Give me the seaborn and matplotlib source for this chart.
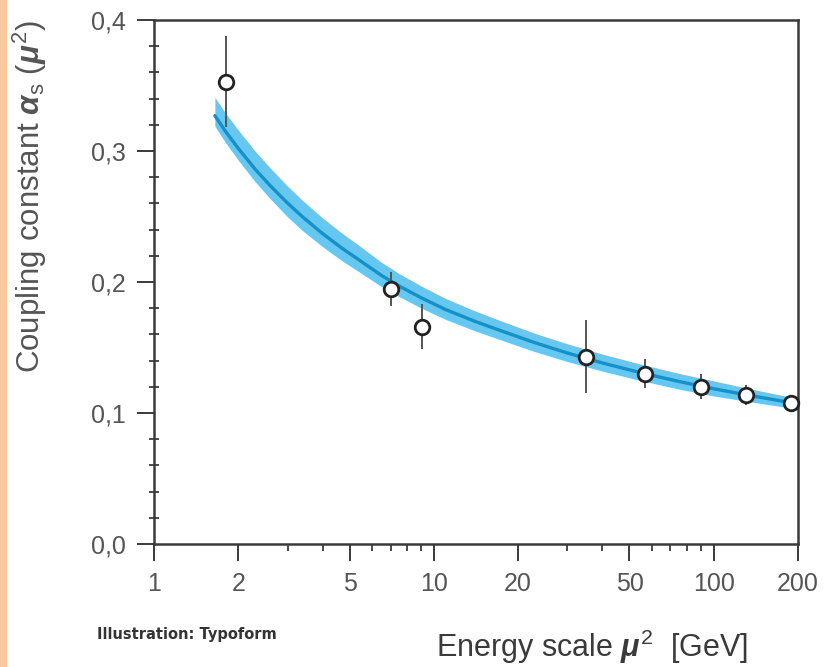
import numpy as np
import pandas as pd
import matplotlib
matplotlib.use("Agg")
import matplotlib.pyplot as plt
import seaborn as sns
from matplotlib.ticker import FixedLocator, NullFormatter
from matplotlib.patches import Rectangle

# ---- data ----
energy = [1.81, 7.0, 9.1, 35.0, 57.0, 90.0, 130.0, 189.0]
alpha_meas = [0.353, 0.195, 0.166, 0.143, 0.130, 0.120, 0.114, 0.108]
alpha_err = [0.035, 0.013, 0.017, 0.028, 0.011, 0.0095, 0.0076, 0.003]

curve_x = [1.65, 1.8, 2.0, 2.3, 2.6, 3.0, 3.4, 4.0, 4.7, 5.5, 6.5, 7.5, 9.0, 11.0,
           14.0, 18.0, 23.0, 30.0, 40.0, 55.0, 75.0, 100.0, 140.0, 200.0]
curve_y = [0.327, 0.315, 0.302, 0.286, 0.2736, 0.2602, 0.2496, 0.237, 0.2257, 0.2157,
           0.205, 0.197, 0.188, 0.179, 0.170, 0.1616, 0.1536, 0.1458, 0.1382, 0.1307,
           0.1241, 0.1185, 0.1127, 0.107]
band_up = [0.014, 0.014, 0.014, 0.0138, 0.0135, 0.013, 0.0125, 0.012, 0.0115, 0.011,
           0.010, 0.0095, 0.009, 0.0085, 0.008, 0.0075, 0.0072, 0.007, 0.0068, 0.0065,
           0.0062, 0.006, 0.005, 0.004]
band_lo = [0.008, 0.0085, 0.009, 0.0095, 0.010, 0.0105, 0.0105, 0.010, 0.0095, 0.009,
           0.0085, 0.008, 0.0078, 0.0075, 0.0072, 0.007, 0.0068, 0.0065, 0.0062, 0.006,
           0.0058, 0.0055, 0.0047, 0.004]

x_ticks = [1, 2, 5, 10, 20, 50, 100, 200]
x_ticklabels = ["1", "2", "5", "10", "20", "50", "100", "200"]
x_minor = [3, 4, 6, 7, 8, 9, 30, 40, 60, 70, 80, 90]
y_ticks = [0.0, 0.1, 0.2, 0.3, 0.4]
y_ticklabels = ["0,0", "0,1", "0,2", "0,3", "0,4"]

sns.set_style("ticks")
plt.rcParams["font.family"] = ["Liberation Sans", "DejaVu Sans"]
plt.rcParams["mathtext.fontset"] = "custom"
plt.rcParams["mathtext.rm"] = "Liberation Sans"
plt.rcParams["mathtext.it"] = "Liberation Sans:italic:bold"
plt.rcParams["mathtext.bf"] = "Liberation Sans:bold"

fig = plt.figure(figsize=(8.25, 6.67), dpi=100)
fig.patch.set_facecolor("white")
fig.patches.append(Rectangle((0, 0), 7 / 825, 1, transform=fig.transFigure,
                             facecolor="#f9c99b", edgecolor="none", zorder=0))

ax = fig.add_axes([154 / 825, 1 - 544 / 667, 644 / 825, 524 / 667])
ax.set_xscale("log")

curve = pd.DataFrame({"x": curve_x, "y": curve_y, "up": band_up, "lo": band_lo})
ax.fill_between(curve["x"], curve["y"] - curve["lo"], curve["y"] + curve["up"],
                color="#66c7f0", linewidth=0, zorder=2)
sns.lineplot(data=curve, x="x", y="y", ax=ax, color="#1590c8", linewidth=2.4,
             zorder=3, legend=False)

meas = pd.DataFrame({"x": energy, "y": alpha_meas, "e": alpha_err})
ax.errorbar(meas["x"], meas["y"], yerr=meas["e"], fmt="none", ecolor="#555555",
            elinewidth=1.4, capsize=0, zorder=4)
sns.scatterplot(data=meas, x="x", y="y", ax=ax, s=110, color="white",
                edgecolor="#222222", linewidth=2.0, zorder=5, legend=False,
                clip_on=False)

ax.set_xlim(1, 200)
ax.set_ylim(0, 0.4)
ax.xaxis.set_major_locator(FixedLocator(x_ticks))
ax.set_xticklabels(x_ticklabels)
ax.xaxis.set_minor_locator(FixedLocator(x_minor))
ax.xaxis.set_minor_formatter(NullFormatter())
ax.set_yticks(y_ticks)
ax.set_yticklabels(y_ticklabels)
ax.yaxis.set_minor_locator(FixedLocator(np.arange(0.02, 0.4, 0.02)))

for sp in ax.spines.values():
    sp.set_visible(True)
    sp.set_color("#3a3a3a")
    sp.set_linewidth(1.8)

ax.tick_params(axis="both", which="major", direction="out", length=12, width=1.4,
               color="#3a3a3a", labelsize=18, labelcolor="#555555")
ax.tick_params(axis="x", which="major", pad=8)
ax.tick_params(axis="y", which="major", pad=8)
ax.tick_params(axis="x", which="minor", direction="out", length=5, width=1.3, color="#3a3a3a")
ax.tick_params(axis="y", which="minor", direction="inout", length=7, width=1.3, color="#3a3a3a")
ax.set_xlabel("")
ax.set_ylabel("")

fig.text(30 / 825, 1 - 197 / 667,
         r"Coupling constant $\alpha_{\mathrm{s}}$ $(\mu^{\mathrm{2}})$",
         rotation=90, ha="center", va="center", fontsize=22.5, color="#555555")
fig.text(592 / 825, 1 - 647 / 667, r"Energy scale $\mu^{\mathrm{2}}$  [GeV]",
         ha="center", va="center", fontsize=22, color="#3a3a3a")
fig.text(97 / 825, 1 - 635 / 667, "Illustration: Typoform", ha="left", va="center",
         fontsize=10.5, fontweight="bold", color="#333333",
         family=["DejaVu Sans Condensed", "DejaVu Sans"])

fig.savefig("out.png", dpi=100)
